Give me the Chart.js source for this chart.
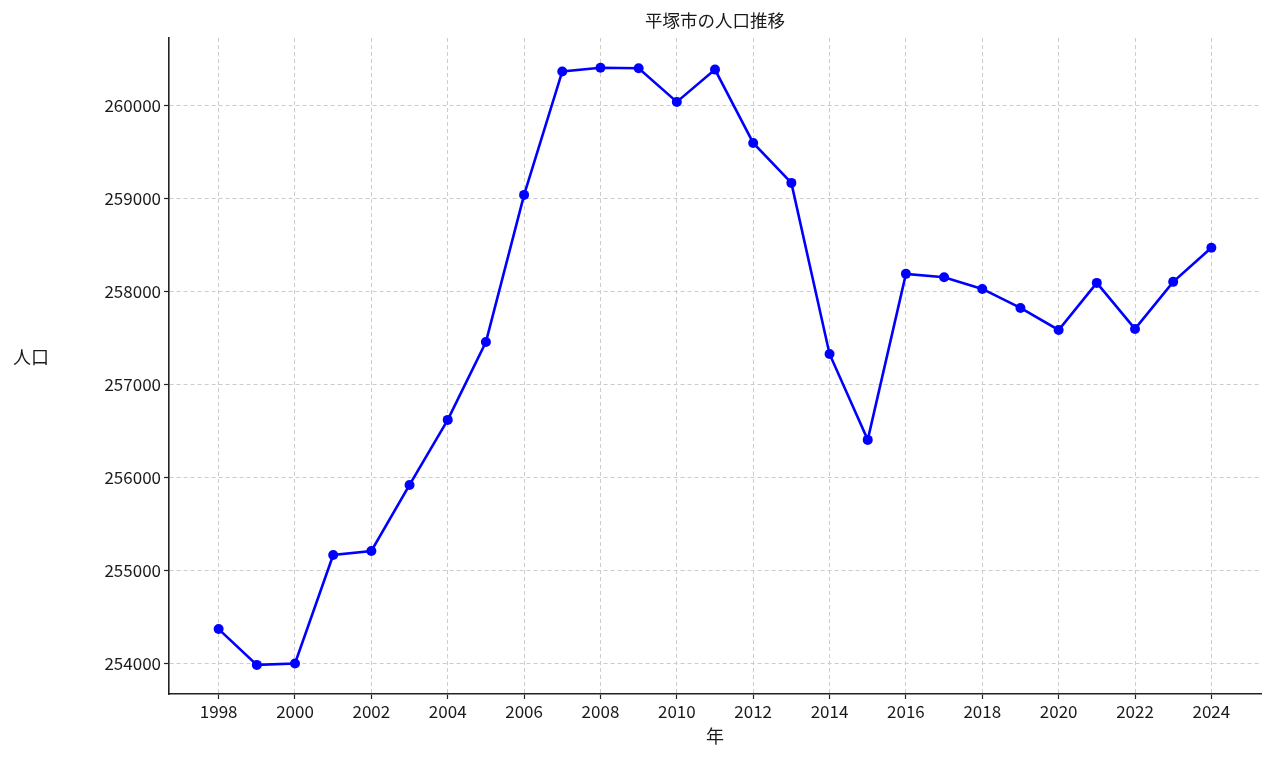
<!DOCTYPE html>
<html>
<head>
<meta charset="utf-8">
<script src="https://cdn.jsdelivr.net/npm/chart.js@4.4.1/dist/chart.umd.min.js"></script>
<style>
    html, body { margin: 0; padding: 0; background: #fff; }
    #wrap { width: 1273px; height: 759px; }
</style>
</head>
<body>
<div id="wrap"><canvas id="popChart" width="1273" height="759"></canvas></div>
<script>
// 平塚市の人口 (年ごと)
const years = [1998, 1999, 2000, 2001, 2002, 2003, 2004, 2005, 2006, 2007, 2008, 2009, 2010,
    2011, 2012, 2013, 2014, 2015, 2016, 2017, 2018, 2019, 2020, 2021, 2022, 2023, 2024];
const population = [254375, 253990, 254005, 255172, 255215, 255925, 256624, 257462, 259043, 260370,
    260410, 260405, 260043, 260390, 259602, 259172, 257333, 256409, 258194, 258158, 258032, 257828,
    257591, 258097, 257602, 258108, 258475];
const xTicks = [1998, 2000, 2002, 2004, 2006, 2008, 2010, 2012, 2014, 2016, 2018, 2020, 2022, 2024];
const yTicks = [254000, 255000, 256000, 257000, 258000, 259000, 260000];

const FONT = '"Noto Sans CJK JP", "Noto Sans", sans-serif';

// title and horizontal axis labels, drawn like matplotlib
const labelsPlugin = {
    id: 'labels',
    afterDraw(chart) {
        const ctx = chart.ctx;
        const area = chart.chartArea;
        ctx.save();
        ctx.fillStyle = '#1a1a1a';
        ctx.textAlign = 'center';
        ctx.textBaseline = 'middle';
        ctx.font = '17.5px ' + FONT;
        ctx.fillText('平塚市の人口推移', (area.left + area.right) / 2, 20);
        ctx.font = '18px ' + FONT;
        ctx.fillText('人口', 31, 357);
        ctx.fillText('年', (area.left + area.right) / 2, 736);
        ctx.restore();
    }
};

const ctx = document.getElementById('popChart').getContext('2d');
const popChart = new Chart(ctx, {
    type: 'line',
    data: {
        datasets: [{
            label: '人口',
            data: years.map((y, i) => ({ x: y, y: population[i] })),
            borderColor: '#0000ff',
            backgroundColor: '#0000ff',
            borderWidth: 2.6,
            pointRadius: 5,
            pointHoverRadius: 5,
            pointBorderWidth: 0,
            tension: 0,
            fill: false
        }]
    },
    options: {
        responsive: false,
        animation: false,
        layout: { padding: { top: 38, right: 12, left: 0, bottom: 0 } },
        plugins: {
            legend: { display: false },
            title: { display: false },
            tooltip: { enabled: false }
        },
        scales: {
            x: {
                type: 'linear',
                min: 1996.7,
                max: 2025.3,
                afterBuildTicks: axis => { axis.ticks = xTicks.map(v => ({ value: v })); },
                afterFit: axis => { axis.height = 65; },
                ticks: {
                    color: '#1a1a1a',
                    font: { family: FONT, size: 17 },
                    padding: 2,
                    maxRotation: 0,
                    callback: v => String(v)
                },
                grid: {
                    color: '#cccccc',
                    lineWidth: 1,
                    tickColor: '#222',
                    tickLength: 5,
                    tickWidth: 1.2
                },
                border: { display: true, color: '#222', width: 1.6, dash: [4, 3] }
            },
            y: {
                type: 'linear',
                min: 253677,
                max: 260730,
                afterBuildTicks: axis => { axis.ticks = yTicks.map(v => ({ value: v })); },
                afterFit: axis => { axis.width = 169; },
                ticks: {
                    color: '#1a1a1a',
                    font: { family: FONT, size: 17 },
                    padding: 3,
                    callback: v => String(v)
                },
                grid: {
                    color: '#cccccc',
                    lineWidth: 1,
                    tickColor: '#222',
                    tickLength: 5,
                    tickWidth: 1.2
                },
                border: { display: true, color: '#222', width: 1.6, dash: [4, 3] }
            }
        }
    },
    plugins: [labelsPlugin]
});
</script>
</body>
</html>
